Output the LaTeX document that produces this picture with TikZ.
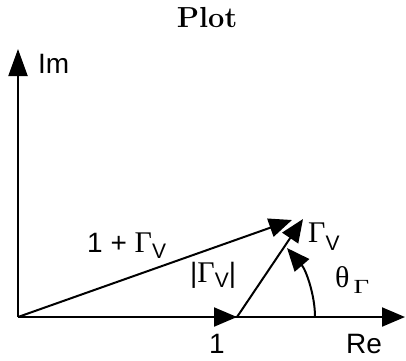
\documentclass[tikz,border=0pt]{standalone}
\usepackage{fontspec}
\usepackage{graphicx}
\setsansfont{Liberation Sans}
\newfontfamily\grk{Liberation Serif}
\usetikzlibrary{arrows.meta}
\begin{document}
\begin{tikzpicture}[x=1pt,y=-1pt,
  ax/.style={line width=2pt, -{Triangle[length=23pt,width=19pt]}},
  lbl/.style={inner sep=0pt, font=\sffamily\fontsize{28}{32}\selectfont},
  gk/.style={inner sep=0pt, font=\grk\fontsize{30}{34}\selectfont},
]
\useasboundingbox (0,0) rectangle (406,360);
\coordinate (O) at (18,317);
\coordinate (imtip) at (18,49);
\coordinate (retip) at (405,317);
\coordinate (one) at (237,317);
\coordinate (sum) at (292,220);
\coordinate (gam) at (303,219);
\coordinate (arcs) at (315,317);
\coordinate (arce) at (287,248);

\node[font=\bfseries\fontsize{29}{34}\selectfont, inner sep=0pt, anchor=base] (title) at (207,27) {Plot};

\draw[ax, -{Triangle[length=27pt,width=19pt]}] (O) -- (imtip);
\draw[ax] (O) -- (retip);
\draw[ax] (O) -- (one);
\draw[ax] (O) -- (sum);
\draw[ax] (one) -- (gam);
\draw[ax] (arcs) .. controls (315,295) and (306,270) .. (arce);

\node[lbl, anchor=base west] (im) at (38,73) {Im};
\node[lbl, anchor=base] (l1) at (217,353) {1};
\node[lbl, anchor=base] (re) at (364,353) {Re};
\node[lbl, anchor=base west] (lsum) at (87,252) {1 + {\grk\fontsize{30}{34}\selectfont Γ}\raisebox{-6pt}{\fontsize{21}{24}\selectfont V}};
\node[lbl, anchor=base west] (labs) at (190,282) {|{\grk\fontsize{30}{34}\selectfont Γ}\raisebox{-5pt}{\fontsize{21}{24}\selectfont V}|};
\node[lbl, anchor=base west] (lgam) at (308,242) {{\grk\fontsize{30}{34}\selectfont Γ}\raisebox{-8pt}{\fontsize{21}{24}\selectfont V}};
\node[gk, anchor=base west] (lth) at (335,287) {θ\hspace{4pt}\raisebox{-6pt}{\scalebox{1.35}[1]{\fontsize{20}{24}\selectfont Γ}}};
\end{tikzpicture}
\end{document}
